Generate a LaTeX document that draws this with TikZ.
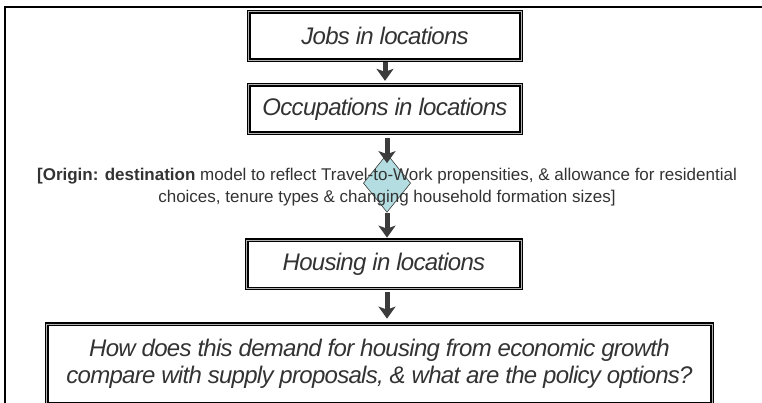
\documentclass[tikz,border=0pt]{standalone}
\usepackage{fontspec}
\setmainfont{Liberation Sans}
\newfontfamily\boxfont[LetterSpace=-3]{Liberation Sans}
\usetikzlibrary{arrows.meta}
\usetikzlibrary{positioning}
\usetikzlibrary{shapes.geometric}
\definecolor{txtgray}{HTML}{333333}
\definecolor{arrgray}{HTML}{3C3C3C}
\definecolor{dmdfill}{HTML}{B3DDE0}

\begin{document}
\begin{tikzpicture}[x=1pt,y=1pt,outer sep=0pt]
  \tikzstyle{box}=[draw=black, line width=1.4pt, double=gray!60, double distance=0.9pt, fill=white, inner sep=0pt, text=txtgray, font=\boxfont\itshape\fontsize{24}{28}\selectfont]
  \tikzstyle{arr}=[draw=arrgray, line width=5pt, -{Stealth[length=12pt,width=17pt,inset=3pt]}]
  \useasboundingbox (0,0) rectangle (762,-403);
  \draw[line width=2pt] (5,-410) -- (5,-7) -- (770,-7);
  \node[box, minimum width=272.3pt, minimum height=48.3pt] (jobs) at (385,-36) {Jobs in locations};
  \node[box, minimum width=272.3pt, minimum height=48.3pt] (occup) [below=24.7pt of jobs] {Occupations in locations};
  \node[draw=arrgray, fill=dmdfill, diamond, minimum width=47pt, minimum height=58pt, inner sep=0pt, line width=0.6pt] (od) [below=21pt of occup, xshift=2pt] {};
  \node[text=txtgray, align=center, font=\fontsize{17}{22}\selectfont] (note) at ([yshift=-3.5pt]od) {\textbf{[Origin: destination} model to reflect Travel-to-Work propensities, \& allowance for residential\\ choices, tenure types \& changing household formation sizes]};
  \node[box, minimum width=274.3pt, minimum height=48.3pt] (housing) [below=28pt of od, xshift=-3pt] {Housing in locations};
  \node[box, minimum width=665.3pt, minimum height=79.3pt, align=center, font=\boxfont\itshape\fontsize{24}{27}\selectfont] (policy) [below=35.7pt of housing, xshift=-4.5pt] {How does this demand for housing from economic growth\\ compare with supply proposals, \& what are the policy options?};
  \draw[arr, shorten <=2pt, shorten >=4pt] (jobs.south) -- (occup.north);
  \draw[arr, shorten <=4.5pt, shorten >=-9pt] (od.north |- occup.south) -- (od.north);
  \draw[arr, shorten <=1pt, shorten >=2.5pt] (od.south) -- (od.south |- housing.north);
  \draw[arr, shorten <=3.5pt, shorten >=5.5pt] (od.south |- housing.south) -- (od.south |- policy.north);
\end{tikzpicture}
\end{document}
